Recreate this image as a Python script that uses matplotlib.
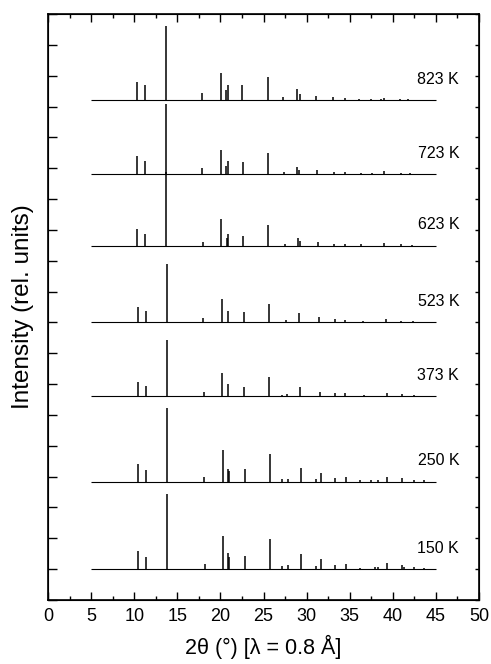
import matplotlib
matplotlib.use("Agg")
from matplotlib import pyplot as plt
from matplotlib.ticker import MultipleLocator

plt.rcParams["font.family"] = ["Liberation Sans", "DejaVu Sans"]

# temperatures, baselines (offsets in y units) and main-peak heights (% of 823 K)
temps = ["823 K", "723 K", "623 K", "523 K", "373 K", "250 K", "150 K"]
baselines = [16.21, 13.81, 11.48, 9.01, 6.61, 3.83, 1.0]
main_heights = [100, 95, 100, 78, 76, 100, 101]

# peak positions (2theta, deg) and relative intensities (% of main peak)
pos_823 = [10.33, 11.25, 13.69, 17.87, 20.07, 20.6, 20.85, 22.55, 25.52, 27.3, 28.85, 29.2,
           31.1, 33.05, 34.4, 36.1, 37.5, 38.6, 38.95, 40.8, 41.8]
int_823 = [25, 21, 100, 9, 37, 13, 20, 20, 31, 4, 15, 8, 5, 4, 3, 2, 2, 2, 3, 2, 2]

pos_723 = [10.33, 11.29, 13.69, 17.90, 20.07, 20.65, 20.85, 22.62, 25.52, 27.38, 28.92, 29.16,
           31.24, 33.14, 34.42, 36.35, 37.6, 38.98, 40.99, 42.0]
int_723 = [25, 18, 100, 8, 34, 12, 19, 17, 30, 3, 10, 6, 6, 3, 3.5, 2, 2, 4, 2, 1.5]

pos_623 = [10.33, 11.29, 13.73, 17.95, 20.11, 20.73, 20.85, 22.66, 25.56, 27.45, 29.04, 29.23,
           31.32, 33.14, 34.42, 36.35, 38.98, 40.99, 42.2]
int_623 = [23, 16, 100, 5, 37, 11, 16, 14, 28, 3, 11, 6, 5, 3, 3, 2, 4, 2, 1.5]

pos_523 = [10.40, 11.37, 13.77, 17.98, 20.19, 20.85, 22.74, 25.60, 27.65, 29.12, 31.44, 33.26,
           34.42, 36.54, 39.25, 40.99, 42.3]
int_523 = [27, 19, 100, 7, 40, 19, 17, 32, 3.5, 15, 8, 5, 3, 2, 5, 2, 1.5]

pos_373 = [10.44, 11.41, 13.81, 18.10, 20.22, 20.88, 22.78, 25.64, 27.2, 27.73, 29.23, 31.59,
           33.33, 34.49, 36.66, 39.33, 41.07, 42.4]
int_373 = [25, 18, 100, 7, 42, 22, 16, 34, 2, 3, 16, 8, 6, 5, 2, 5, 3, 2]

pos_250 = [10.48, 11.37, 13.76, 18.14, 20.26, 20.85, 21.0, 22.9, 25.70, 27.1, 27.8, 29.3,
           31.05, 31.67, 33.3, 34.55, 36.2, 37.5, 38.3, 39.3, 41.1, 42.4, 43.66]
int_250 = [24, 16, 100, 7, 43, 18, 15, 18, 38, 4, 4, 19, 4, 12, 5, 7, 2, 2, 3, 7, 5, 3, 2.5]

pos_150 = [10.48, 11.37, 13.78, 18.17, 20.26, 20.88, 21.0, 22.9, 25.70, 27.1, 27.8, 29.3,
           31.05, 31.7, 33.3, 34.55, 36.2, 37.9, 38.3, 39.35, 41.1, 41.3, 42.4, 43.66]
int_150 = [24, 16, 100, 7, 45, 21, 16, 17, 40, 4.5, 5, 20, 4, 13, 5, 7, 2, 3, 3, 8, 5, 3, 3, 2]

positions = [pos_823, pos_723, pos_623, pos_523, pos_373, pos_250, pos_150]
intensities = [int_823, int_723, int_623, int_523, int_373, int_250, int_150]

x_start, x_end = 5, 45
peak_scale = 2.40  # y units for a 100 % peak

fig = plt.figure(figsize=(4.91, 6.64), dpi=100)
ax = fig.add_axes([0.0978, 0.0964, 0.8778, 0.8825])

for label, base, top, pos, inten in zip(temps, baselines, main_heights, positions, intensities):
    heights = [base + i / 100 * top / 100 * peak_scale for i in inten]
    ax.hlines(base, x_start, x_end, color="black", lw=0.8)
    ax.vlines(pos, base, heights, color="black", lw=1.1)
    ax.text(47.7, base + 0.68, label, ha="right", va="center", fontsize=11.5)

ax.set_xlim(0, 50)
ax.set_ylim(0, 19)
ax.xaxis.set_major_locator(MultipleLocator(5))
ax.xaxis.set_minor_locator(MultipleLocator(2.5))
ax.yaxis.set_major_locator(MultipleLocator(1))
ax.tick_params(axis="x", which="major", direction="in", length=6, width=1, top=True,
               labelsize=13, pad=6)
ax.tick_params(axis="x", which="minor", direction="in", length=3, width=1, top=True)
ax.tick_params(axis="y", which="major", direction="in", length=6.5, width=1,
               labelleft=False, right=False)
for sp in ax.spines.values():
    sp.set_linewidth(1.2)

ax2 = ax.twinx()
ax2.set_ylim(0, 19)
ax2.yaxis.set_major_locator(MultipleLocator(1))
ax2.tick_params(axis="y", direction="in", length=3, width=1, labelright=False)

ax.set_xlabel("2θ (°) [λ = 0.8 Å]", fontsize=15.5, labelpad=7)
ax.set_ylabel("Intensity (rel. units)", fontsize=17.5, labelpad=10)

fig.savefig("out.png", dpi=100)
